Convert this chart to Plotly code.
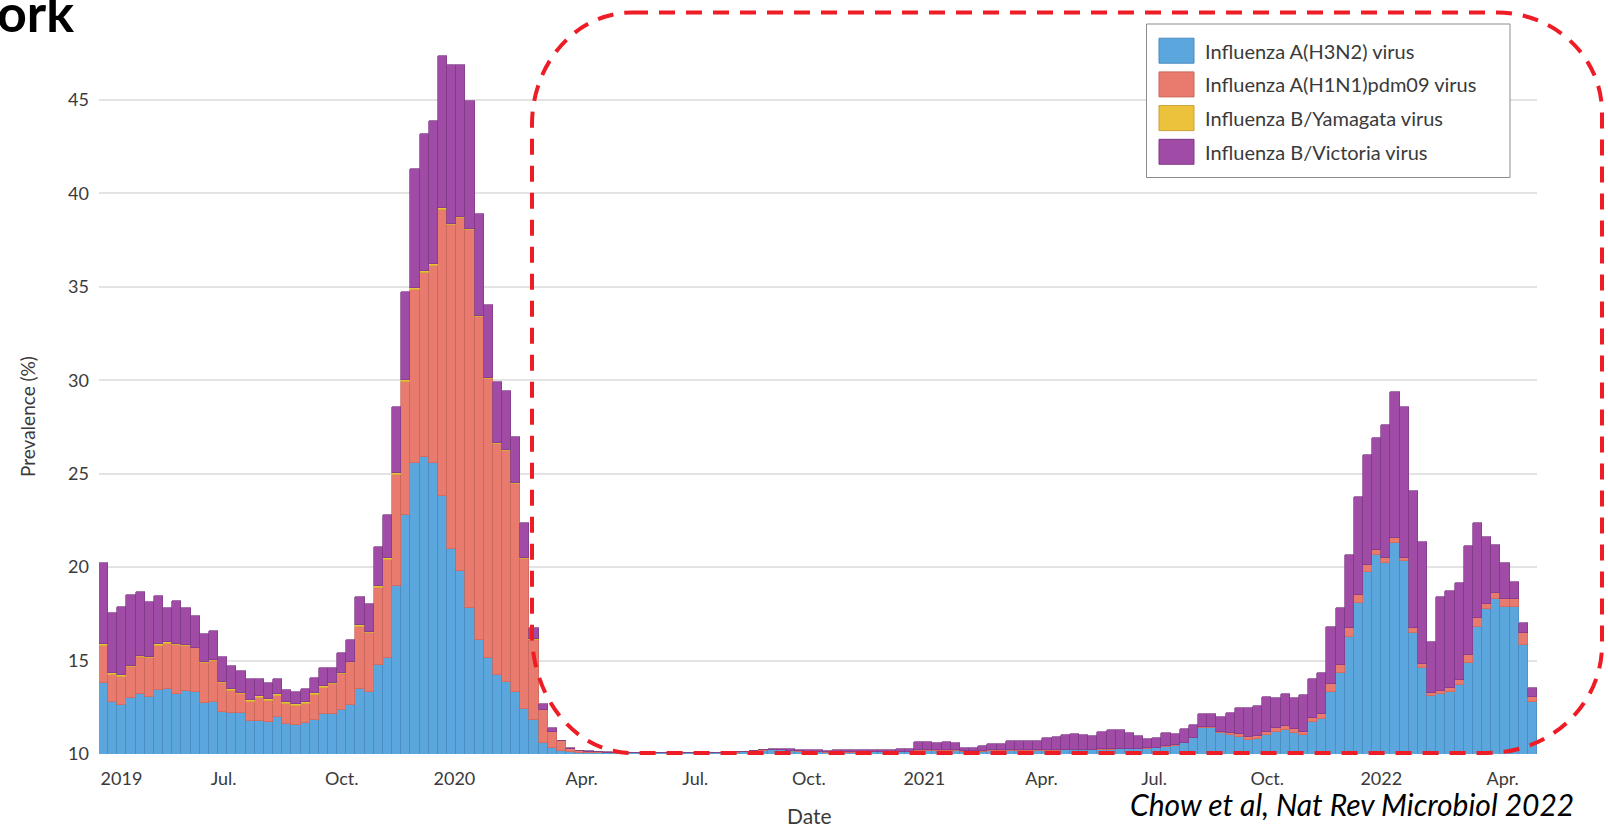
import plotly.graph_objects as go

# ---------------- data (weekly prevalence, stacked) ----------------
NAMES = ["Influenza A(H3N2) virus", "Influenza A(H1N1)pdm09 virus",
         "Influenza B/Yamagata virus", "Influenza B/Victoria virus"]

H3N2 = [
    13.78, 12.76, 12.62, 12.98, 13.21, 13.07, 13.42, 13.46, 13.21, 13.37,
    13.34, 12.75, 12.76, 12.25, 12.18, 12.18, 11.78, 11.78, 11.73, 12.00,
    11.60, 11.55, 11.64, 11.82, 12.12, 12.12, 12.34, 12.60, 13.50, 13.30,
    14.75, 15.15, 19.00, 22.80, 25.60, 25.90, 25.60, 23.80, 20.95, 19.80,
    17.80, 16.10, 15.15, 14.25, 13.87, 13.30, 12.40, 11.80, 10.57, 10.30,
    10.18, 10.10, 10.08, 10.06, 10.05, 10.04, 10.03, 10.03, 10.03, 10.03,
    10.03, 10.03, 10.03, 10.03, 10.05, 10.05, 10.05, 10.05, 10.05, 10.08,
    10.10, 10.15, 10.18, 10.20, 10.20, 10.15, 10.12, 10.10, 10.10, 10.08,
    10.08, 10.08, 10.08, 10.10, 10.10, 10.10, 10.10, 10.10, 10.10, 10.15,
    10.15, 10.15, 10.15, 10.15, 10.12, 10.12, 10.13, 10.15, 10.15, 10.15,
    10.15, 10.16, 10.16, 10.18, 10.18, 10.20, 10.20, 10.20, 10.20, 10.22,
    10.22, 10.25, 10.25, 10.25, 10.28, 10.30, 10.39, 10.45, 10.57, 10.84,
    11.40, 11.37, 11.14, 11.02, 10.93, 10.75, 10.78, 11.02, 11.19, 11.28,
    11.10, 11.02, 11.73, 11.85, 13.34, 14.35, 16.24, 18.10, 19.76, 20.65,
    20.24, 21.31, 20.34, 16.49, 14.58, 13.10, 13.21, 13.34, 13.69, 14.85,
    16.81, 17.74, 18.28, 17.85, 17.85, 15.83, 12.80,
]

H1N1 = [
    2.00, 1.47, 1.52, 1.66, 1.96, 2.05, 2.36, 2.43, 2.62, 2.41,
    2.31, 2.14, 2.24, 1.53, 1.21, 1.03, 1.02, 1.20, 1.12, 1.10,
    1.08, 1.04, 1.04, 1.34, 1.39, 1.63, 1.95, 2.30, 3.30, 3.20,
    4.15, 5.25, 5.95, 7.10, 9.25, 9.85, 10.50, 15.30, 17.35, 18.90,
    20.25, 17.30, 14.90, 12.35, 12.33, 11.15, 8.05, 4.30, 1.78, 0.90,
    0.50, 0.15, 0.07, 0.06, 0.04, 0.03, 0.01, 0.01, 0.01, 0.01,
    0.01, 0.01, 0.01, 0.01, 0.01, 0.01, 0.01, 0.01, 0.01, 0.01,
    0.01, 0.01, 0.01, 0.01, 0.02, 0.02, 0.02, 0.02, 0.02, 0.02,
    0.02, 0.02, 0.02, 0.02, 0.02, 0.02, 0.02, 0.02, 0.02, 0.05,
    0.05, 0.05, 0.05, 0.05, 0.04, 0.04, 0.04, 0.04, 0.04, 0.04,
    0.04, 0.04, 0.04, 0.04, 0.04, 0.04, 0.04, 0.04, 0.04, 0.04,
    0.04, 0.04, 0.04, 0.04, 0.04, 0.03, 0.03, 0.03, 0.03, 0.04,
    0.05, 0.05, 0.06, 0.08, 0.12, 0.15, 0.18, 0.17, 0.18, 0.22,
    0.22, 0.18, 0.18, 0.27, 0.41, 0.41, 0.48, 0.40, 0.35, 0.26,
    0.26, 0.26, 0.16, 0.23, 0.24, 0.18, 0.18, 0.17, 0.27, 0.45,
    0.45, 0.29, 0.35, 0.45, 0.45, 0.62, 0.27,
]

YAMAGATA = [
    0.09, 0.12, 0.09, 0.09, 0.07, 0.06, 0.09, 0.08, 0.06, 0.06,
    0.05, 0.05, 0.05, 0.09, 0.07, 0.07, 0.09, 0.12, 0.09, 0.11,
    0.10, 0.09, 0.10, 0.09, 0.13, 0.05, 0.04, 0.05, 0.10, 0.05,
    0.10, 0.10, 0.10, 0.10, 0.10, 0.10, 0.10, 0.10, 0.05, 0.05,
    0.05, 0.05, 0.05, 0.05, 0.05, 0.05, 0.05, 0.05, 0, 0,
    0, 0, 0, 0, 0, 0, 0, 0, 0, 0,
    0, 0, 0, 0, 0, 0, 0, 0, 0, 0,
    0, 0, 0, 0, 0, 0, 0, 0, 0, 0,
    0, 0, 0, 0, 0, 0, 0, 0, 0, 0,
    0, 0, 0, 0, 0, 0, 0, 0, 0, 0,
    0, 0, 0, 0, 0, 0, 0, 0, 0, 0,
    0, 0, 0, 0, 0, 0, 0, 0, 0, 0,
    0, 0, 0, 0, 0, 0, 0, 0, 0, 0,
    0, 0, 0, 0, 0, 0, 0, 0, 0, 0,
    0, 0, 0, 0, 0, 0, 0, 0, 0, 0,
    0, 0, 0, 0, 0, 0, 0,
]

VICTORIA = [
    4.33, 3.18, 3.65, 3.77, 3.45, 2.97, 2.58, 1.82, 2.31, 1.95,
    1.68, 1.46, 1.55, 1.34, 1.25, 1.18, 1.11, 0.90, 0.88, 0.79,
    0.64, 0.66, 0.68, 0.80, 0.98, 0.78, 1.08, 1.15, 1.50, 1.50,
    2.10, 2.30, 3.50, 4.75, 6.35, 7.35, 7.70, 8.16, 8.50, 8.10,
    6.86, 5.45, 3.95, 3.25, 3.20, 2.45, 1.85, 0.60, 0.30, 0.17,
    0.04, 0.05, 0.03, 0.02, 0.02, 0.02, 0.01, 0.01, 0.01, 0.01,
    0.01, 0.01, 0.01, 0.01, 0.01, 0.01, 0.01, 0.01, 0.01, 0.01,
    0.01, 0.02, 0.03, 0.04, 0.05, 0.08, 0.10, 0.10, 0.08, 0.08,
    0.10, 0.10, 0.10, 0.10, 0.10, 0.10, 0.10, 0.13, 0.13, 0.46,
    0.42, 0.40, 0.42, 0.38, 0.14, 0.16, 0.25, 0.35, 0.36, 0.51,
    0.53, 0.50, 0.52, 0.66, 0.70, 0.76, 0.81, 0.76, 0.71, 0.94,
    1.01, 0.99, 0.86, 0.66, 0.46, 0.51, 0.72, 0.59, 0.72, 0.67,
    0.67, 0.70, 0.76, 1.11, 1.39, 1.54, 1.61, 1.84, 1.61, 1.71,
    1.66, 1.96, 2.09, 2.20, 3.03, 3.03, 3.93, 5.27, 5.89, 5.98,
    7.10, 7.82, 8.05, 7.37, 6.51, 2.73, 5.03, 5.23, 5.21, 5.83,
    5.08, 3.56, 2.55, 1.90, 0.92, 0.57, 0.44,
]

WEEK = list(range(len(H3N2)))  # weekly bars, 2019 -> Apr 2022

TICK_LABELS = ["2019", "Jul.", "Oct.", "2020", "Apr.", "Jul.", "Oct.",
               "2021", "Apr.", "Jul.", "Oct.", "2022", "Apr."]
TICK_WEEKS = [1.95, 13.1, 26.0, 38.3, 52.2, 64.6, 77.0,
              89.6, 102.4, 114.7, 127.05, 139.5, 152.75]

assert all(len(s) == len(WEEK) for s in (H1N1, YAMAGATA, VICTORIA))

# ---------------- styling ----------------
COLORS = ["#5ba6dc", "#e97b6e", "#ecc23c", "#a04ca6"]
EDGES = ["#4a8cc0", "#c9675c", "#c9a232", "#7f3a86"]
FONT = "Lato"
TXT = "#3a3a3a"

W, H = 1608, 827
ML, MR, MT, MB = 99, 71, 44, 73
PW, PH = W - ML - MR, H - MT - MB


def px(x):
    return (x - ML) / PW


def py(y):
    return (H - MB - y) / PH


fig = go.Figure()
for name, vals, col, edge in zip(NAMES, [H3N2, H1N1, YAMAGATA, VICTORIA], COLORS, EDGES):
    fig.add_trace(go.Bar(x=WEEK, y=vals, name=name, showlegend=False,
                         marker=dict(color=col, line=dict(color=edge, width=0.7))))

fig.update_layout(
    width=W, height=H, barmode="stack", bargap=0,
    margin=dict(l=ML, r=MR, t=MT, b=MB, pad=0),
    plot_bgcolor="white", paper_bgcolor="white",
    font=dict(family=FONT, color=TXT),
    xaxis=dict(range=[-0.5, len(WEEK) - 0.5], tickmode="array",
               tickvals=TICK_WEEKS, ticktext=TICK_LABELS,
               showgrid=False, zeroline=False, showline=False, ticks="",
               tickfont=dict(size=18, color=TXT), ticklabelstandoff=12),
    yaxis=dict(range=[10, 48], tick0=10, dtick=5, showgrid=True,
               gridcolor="#e3e3e3", gridwidth=1.5, zeroline=False,
               showline=False, ticks="",
               tickfont=dict(size=18, color=TXT), ticklabelstandoff=9),
)

ann = []
# axis titles
ann.append(dict(text="Prevalence (%)", x=px(27), y=py(417), xref="paper", yref="paper",
                textangle=-90, showarrow=False, xanchor="center", yanchor="middle",
                font=dict(size=19, color=TXT, family=FONT)))
ann.append(dict(text="Date", x=px(809), y=py(815), xref="paper", yref="paper",
                showarrow=False, xanchor="center", yanchor="middle",
                font=dict(size=21, color=TXT, family=FONT)))
# cropped slide title and citation
ann.append(dict(text="<b>ork</b>", x=px(76), y=py(12), xref="paper", yref="paper",
                showarrow=False, xanchor="right", yanchor="middle",
                font=dict(size=52, color="black", family=FONT)))
ann.append(dict(text="Chow et al, Nat Rev Microbiol 2022", x=px(1352), y=py(804),
                xref="paper", yref="paper", showarrow=False,
                xanchor="center", yanchor="middle",
                font=dict(size=30, color="black", family=FONT, style="italic")))

shapes = []
# legend box (custom, large swatches as in the original)
shapes.append(dict(type="rect", xref="paper", yref="paper",
                   x0=px(1146.5), x1=px(1510), y0=py(24), y1=py(177.5),
                   line=dict(color="#8c8c8c", width=1), fillcolor="white", layer="above"))
for k, (name, col, edge) in enumerate(zip(NAMES, COLORS, EDGES)):
    yc = 50.7 + 33.7 * k
    shapes.append(dict(type="rect", xref="paper", yref="paper",
                       x0=px(1159), x1=px(1194), y0=py(yc - 12.5), y1=py(yc + 12.5),
                       line=dict(color=edge, width=1), fillcolor=col, layer="above"))
    ann.append(dict(text=name, x=px(1203), y=py(yc), xref="paper", yref="paper",
                    showarrow=False, xanchor="left", yanchor="middle",
                    font=dict(size=20, color=TXT, family=FONT)))

# red dashed rounded rectangle highlighting the pandemic period
x0, x1, y0, y1 = 532, 1602, 12.5, 753
k = 0.5523
rtl, rtr, rbr, rbl = (100, 112), (105, 100), (115, 108), (100, 120)


def P(x, y):
    return f"{px(x):.5f},{py(y):.5f}"


path = (
    f"M{P(x0 + rtl[0], y0)} L{P(x1 - rtr[0], y0)} "
    f"C{P(x1 - rtr[0] + k * rtr[0], y0)} {P(x1, y0 + rtr[1] - k * rtr[1])} {P(x1, y0 + rtr[1])} "
    f"L{P(x1, y1 - rbr[1])} "
    f"C{P(x1, y1 - rbr[1] + k * rbr[1])} {P(x1 - rbr[0] + k * rbr[0], y1)} {P(x1 - rbr[0], y1)} "
    f"L{P(x0 + rbl[0], y1)} "
    f"C{P(x0 + rbl[0] - k * rbl[0], y1)} {P(x0, y1 - rbl[1] + k * rbl[1])} {P(x0, y1 - rbl[1])} "
    f"L{P(x0, y0 + rtl[1])} "
    f"C{P(x0, y0 + rtl[1] - k * rtl[1])} {P(x0 + rtl[0] - k * rtl[0], y0)} {P(x0 + rtl[0], y0)} Z"
)
shapes.append(dict(type="path", xref="paper", yref="paper", path=path,
                   line=dict(color="#ee1c25", width=4, dash="16px,11px"), layer="above"))

fig.update_layout(annotations=ann, shapes=shapes)

fig.write_html("out.html", config={"displayModeBar": False},
               post_script="document.body.style.margin='0';document.body.style.overflow='hidden';")
